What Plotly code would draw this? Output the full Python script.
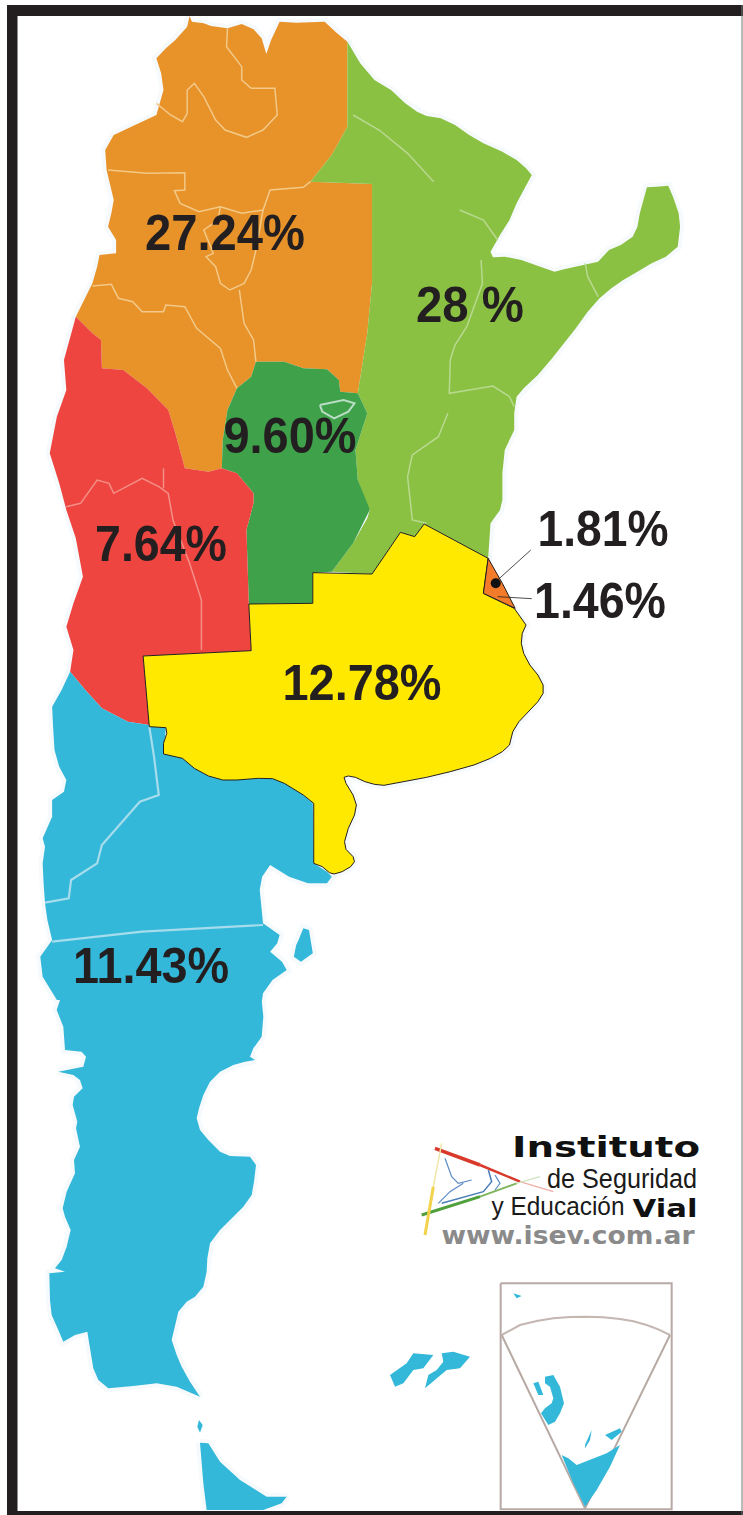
import plotly.graph_objects as go

# Outlines; each is tagged with the crop it was read in.
W, H = 743, 1515
def a(p): return [(x / 2.11, y / 3) for x, y in p]            # top crop
def b(p): return [(x / 2.11, 500 + y / 3) for x, y in p]      # middle crop
def c(p): return [(x / 3, 1000 + y / 3) for x, y in p]        # south crop
def d(p): return [(380 + x / 3, 1120 + y / 3) for x, y in p]  # logo/inset crop

orange_region = a([(400,48),(405,65),(430,70),(445,78),(480,85),(510,72),(535,88),(552,115),(562,162),(572,120),(590,65),(625,68),(685,65),(710,98),(733,125),(733,380),(700,465),(655,545),(785,552),(785,850),(775,1000),(755,1180),(718,1175),(715,1140),(690,1108),(640,1105),(600,1085),(540,1085),(530,1130),(500,1165),(480,1230),(470,1320),(468,1405),(440,1415),(390,1405),(370,1300),(355,1230),(310,1165),(260,1110),(215,1105),(213,1020),(195,1000),(160,950),(175,905),(195,850),(205,800),(210,765),(245,760),(245,720),(228,680),(235,640),(240,600),(225,510),(222,450),(240,405),(285,375),(330,345),(345,270),(340,220),(330,175),(350,145),(370,120),(395,80)])
green_region = a([(733,125),(760,190),(790,240),(825,270),(855,310),(880,335),(900,348),(930,355),(960,375),(990,405),(1020,430),(1060,455),(1090,480),(1110,505),(1122,525),(1105,570),(1090,610),(1075,660),(1055,705),(1035,755),(1040,772),(1065,770),(1100,780),(1140,800),(1170,815),(1190,808),(1215,800),(1240,792),(1262,785),(1285,750),(1310,735),(1335,710),(1345,680),(1350,640),(1360,590),(1365,562),(1385,560),(1410,557),(1420,590),(1432,640),(1435,680),(1430,740),(1405,770),(1375,790),(1345,815),(1315,840),(1290,865),(1265,895),(1240,935),(1215,985),(1190,1030),(1165,1075),(1135,1125),(1105,1165),(1090,1190),(1085,1240),(1085,1290),(1065,1350),(1060,1420),(1060,1500)]) + b([(1055,30),(1035,70),(1030,175),(895,72),(875,110),(845,97),(785,222),(700,215),(745,130),(775,55),(780,30)]) + a([(775,1520),(755,1440),(750,1350),(775,1240),(755,1180),(775,1000),(785,850),(785,552),(655,545),(700,465),(733,380)])
dark_green_region = a([(500,1165),(530,1130),(540,1085),(600,1085),(640,1105),(690,1108),(715,1140),(718,1175),(755,1180),(775,1240),(750,1350),(755,1440),(778,1520)]) + b([(780,30),(745,130),(700,215),(660,218),(660,310),(525,312),(520,90),(535,10)]) + a([(535,1480),(500,1420),(468,1405),(470,1320),(480,1230)])
red_region = a([(160,950),(195,1000),(213,1020),(215,1105),(260,1110),(310,1165),(355,1230),(370,1300),(390,1405),(440,1415),(468,1405),(500,1420),(535,1480)]) + b([(535,10),(520,90),(525,312),(530,452),(302,468),(315,675),(270,665),(215,625),(180,570),(148,515),(155,450),(140,380),(155,310),(175,230),(160,115),(140,30)]) + a([(125,1450),(105,1360),(120,1250),(140,1170),(135,1080)])
blue_region = b([(148,515),(180,570),(215,625),(270,665),(315,675),(350,680),(345,760),(385,775),(410,805),(440,828),(470,840),(545,835),(575,836),(600,850),(640,885),(660,910),(662,1090),(690,1115),(700,1130),(690,1150),(650,1150),(610,1130),(570,1095),(553,1130),(548,1170),(552,1230),(555,1270),(590,1305),(585,1330),(570,1355),(595,1385),(605,1410),(575,1440),(555,1480),(550,1530)]) + c([(785,0),(790,50),(785,110),(760,145),(750,170),(765,180),(735,185),(700,195),(660,215),(630,245),(610,285),(597,325),(590,355),(600,390),(625,420),(660,455),(690,468),(750,470),(768,495),(762,545),(755,585),(730,620),(695,655),(660,690),(630,730),(622,775),(620,815),(610,860),(585,890),(560,905),(535,935),(525,975),(515,1020),(530,1065),(545,1100),(570,1145),(600,1190),(530,1160),(470,1150),(400,1158),(325,1165),(295,1140),(280,1105),(270,1045),(262,995),(225,1005),(190,1025),(175,990),(155,945),(150,900),(148,820),(195,815),(165,805),(185,780),(200,740),(212,690),(195,650),(188,625),(200,575),(225,520),(222,480),(240,440),(228,385),(232,365),(218,315),(222,290),(248,265),(240,240),(220,225),(175,215),(210,208),(250,200),(258,170),(245,155),(195,150),(190,80),(170,30),(180,0)]) + b([(120,1500),(90,1430),(85,1370),(110,1320),(100,1260),(95,1210),(92,1150),(90,1090),(95,1040),(90,1015),(110,950),(110,900),(135,875),(140,840),(125,800),(115,750),(112,680),(110,620),(130,570)])
tierra_del_fuego = c([(600,1328),(625,1330),(660,1385),(720,1440),(800,1490),(860,1490),(845,1510),(790,1530),(620,1530),(610,1450)])
isla_small = c([(597,1260),(608,1275),(600,1298),(592,1280)])
valdes_island = b([(630,1320),(640,1285),(652,1290),(660,1360),(635,1385),(620,1370),(625,1335)])
malvinas_west = d([(30,765),(80,730),(100,700),(160,705),(130,745),(100,750),(70,790),(45,800)])
malvinas_east = d([(185,700),(220,695),(270,710),(240,745),(200,750),(170,775),(135,805),(145,765),(170,750),(190,725)])
yellow_region = b([(895,72),(1030,175),(1020,280),(1085,325),(1110,375),(1102,400),(1100,430),(1105,460),(1118,495),(1135,525),(1146,555),(1146,580),(1135,605),(1115,635),(1095,665),(1082,695),(1075,735),(1060,755),(1035,775),(1000,795),(950,815),(900,832),(850,846),(810,856),(790,853),(770,845),(750,832),(735,828),(726,832),(730,850),(745,885),(752,915),(748,945),(735,985),(727,1025),(730,1048),(745,1070),(748,1085),(740,1100),(722,1115),(705,1122),(695,1118),(680,1100),(662,1090),(662,910),(640,885),(600,850),(575,836),(545,835),(500,840),(470,840),(440,828),(410,805),(385,775),(345,762),(345,730),(352,700),(350,683),(315,680),(302,468),(530,452),(525,312),(660,310),(660,218),(785,222),(845,97),(875,110),(895,72)])
small_orange = b([(1030,175),(1060,250),(1087,325),(1020,280),(1030,175)])

orange_borders = [
    a([(480,85),(478,140),(510,200),(510,240),(530,265),(580,265),(585,345),(555,390),(520,412),(475,390),(455,360),(430,290),(410,250),(395,270),(395,340),(385,365),(360,345),(330,310)]),
    a([(228,510),(310,520),(390,518),(390,570),(368,572),(380,610),(420,635),(465,620),(510,640),(555,630),(570,570),(640,562),(655,545)]),
    a([(465,620),(460,660),(430,690),(450,760),(435,770),(455,800),(465,850),(485,870),(515,850),(530,810),(540,750),(555,630)]),
    a([(195,858),(235,853),(250,895),(280,905),(300,935),(345,935),(350,915),(390,920),(415,985),(465,1045),(480,1110),(500,1165)]),
    a([(505,870),(515,970),(535,1020),(540,1085)]),
]
green_borders = [
    a([(745,345),(800,390),(860,460),(915,545)]),
    a([(970,630),(1020,660),(1050,720)]),
    a([(1015,780),(1018,850),(985,980),(960,1035),(950,1080),(948,1180),(1040,1158),(1075,1190),(1085,1220)]),
    a([(1235,790),(1240,830),(1262,890)]),
    a([(945,1240),(925,1310),(870,1365),(860,1430),(870,1560)]) + b([(900,70)]),
]
red_borders = [
    a([(140,1520),(170,1510),(205,1440),(230,1450),(240,1480),(300,1435),(335,1460),(355,1480),(365,1560)]) + b([(400,190),(425,300),(425,450)]),
    a([(345,1405),(345,1465)]),
]
blue_borders = [
    b([(315,680),(325,770),(335,885),(295,905),(215,1035),(205,1090),(150,1140),(145,1195),(95,1208)]),
    b([(110,1325),(300,1295),(555,1275)]),
]
cordoba_lake = a([(675,1215),(725,1200),(748,1210),(735,1235),(705,1255),(680,1235),(675,1215)])

leader_lines = [b([(1050,240),(1120,150)]), b([(1050,290),(1122,296)])]
dot_point = b([(1046,250)])

region_labels = ["27.24%", "28 %", "9.60%", "7.64%", "12.78%", "1.81%", "1.46%", "11.43%"]
label_x = [225, 470, 290, 161, 362, 603, 600, 151]
label_y = [237, 309, 440, 548, 687, 533, 605, 970]
label_widths = [160, 108, 133, 132, 159, 131, 132, 156]

inset_box = d([(362,490),(875,490),(875,1168),(362,1168),(362,490)])
inset_arc = d([(365,645),(420,615),(470,603),(520,595),(570,591),(620,590),(670,592),(720,597),(760,604),(800,615),(835,628),(870,645)])
inset_wedge = d([(365,645),(615,1165),(870,645)])
inset_blue = [
    d([(545,1005),(565,1015),(590,1035),(640,1015),(680,1000),(720,975),(690,1040),(650,1110),(615,1160),(580,1090)]),
    d([(495,770),(520,765),(540,800),(552,850),(540,880),(525,905),(505,915),(483,880),(495,865),(515,850),(520,835),(510,800),(495,790)]),
    d([(460,790),(475,785),(490,825),(475,825)]),
    d([(615,975),(635,930),(630,960),(615,985)]),
    d([(675,945),(720,925),(725,935),(695,960)]),
    d([(400,520),(425,528),(410,535)]),
]
logo_lines = [
    (d([(165,85),(300,135)]), "#D8392B", 3.5),
    (d([(300,135),(420,185)]), "#D8392B", 2.5),
    (d([(420,185),(520,215)]), "#EDB0A5", 1.2),
    (d([(125,285),(300,230)]), "#4FA03B", 3),
    (d([(300,230),(410,190)]), "#7DB55C", 2),
    (d([(410,190),(480,170)]), "#CFE3C0", 1.2),
    (d([(185,70),(160,200)]), "#EFE6A8", 1.5),
    (d([(160,200),(135,345)]), "#F2D24B", 3),
    (d([(195,115),(215,170),(235,190),(275,180)]), "#5C8CC4", 1.2),
    (d([(175,250),(210,215),(250,190)]), "#5C8CC4", 1.2),
    (d([(185,250),(240,235),(310,215),(335,185),(325,150)]), "#4A7DB8", 1.5),
    (d([(345,165),(360,190),(345,210)]), "#5C8CC4", 1.2),
]
logo_texts = [
    ("Instituto", 606, 1150, "DejaVu Sans", 28, "#111111", "bold"),
    ("de Seguridad", 622, 1181, "Liberation Sans", 27, "#1a1a1a", "normal"),
    ("y Educación", 558, 1208, "Liberation Sans", 26, "#1a1a1a", "normal"),
    ("Vial", 665, 1211, "DejaVu Sans", 24, "#111111", "bold"),
    ("www.isev.com.ar", 568, 1238, "DejaVu Sans", 24, "#8a8a8a", "bold"),
]
logo_widths = {"Instituto": 188, "de Seguridad": 150, "y Educación": 133, "Vial": 65, "www.isev.com.ar": 253}

fig = go.Figure()

def poly(pts, fill, line=None, width=0):
    xs, ys = zip(*pts)
    fig.add_trace(go.Scatter(x=xs, y=ys, mode="lines", fill="toself", fillcolor=fill,
                             line=dict(color=line or fill, width=width if line else 0),
                             hoverinfo="skip", showlegend=False))

def path(pts, color, width):
    xs, ys = zip(*pts)
    fig.add_trace(go.Scatter(x=xs, y=ys, mode="lines", line=dict(color=color, width=width),
                             hoverinfo="skip", showlegend=False))

BLUE = "#33B8D9"
HALO = "rgba(205,228,238,0.18)"
for shape in (orange_region, green_region, red_region, blue_region, tierra_del_fuego, valdes_island, yellow_region):
    path(list(shape) + [shape[0]], HALO, 8)

poly(orange_region, "#E8922A")
poly(green_region, "#8AC143")
poly(dark_green_region, "#3FA14A")
poly(red_region, "#EE4540")
poly(blue_region, BLUE)
for shape in (tierra_del_fuego, isla_small, valdes_island, malvinas_west, malvinas_east):
    poly(shape, BLUE)

for border in orange_borders:
    path(border, "#F3C987", 1.5)
for border in green_borders:
    path(border, "#B9D98F", 1.5)
for border in red_borders:
    path(border, "#F58F86", 1.5)
for border in blue_borders:
    path(border, "#A6DCEC", 2.2)
path(cordoba_lake, "#B9DCC4", 2)

poly(yellow_region, "#FFE900", "#231F20", 1)
poly(small_orange, "#F47B2A", "#231F20", 1)
for line in leader_lines:
    path(line, "#231F20", 0.8)
fig.add_trace(go.Scatter(x=[dot_point[0][0]], y=[dot_point[0][1]], mode="markers",
                         marker=dict(color="#111111", size=10), hoverinfo="skip", showlegend=False))

path(inset_box, "#B7A9A4", 2)
path(inset_arc, "#C4B6B1", 2)
path(inset_wedge, "#B7A9A4", 2)
for shape in inset_blue:
    poly(shape, BLUE)
for pts, color, width in logo_lines:
    path(pts, color, width)

fig.add_trace(go.Scatter(x=label_x, y=label_y, mode="text", text=region_labels,
                         textposition="middle center",
                         textfont=dict(family="Liberation Sans", size=50, color="#231F20", weight="bold"),
                         hoverinfo="skip", showlegend=False))
for text, x, y, family, size, color, weight in logo_texts:
    fig.add_trace(go.Scatter(x=[x], y=[y], mode="text", text=[text], textposition="middle center",
                             textfont=dict(family=family, size=size, color=color, weight=weight),
                             hoverinfo="skip", showlegend=False))

# Black frame
frame_rects = [(7, 5, 17.5, 1515), (7, 5, 743, 16), (7, 1511, 743, 1515)]
for x0, y0, x1, y1 in frame_rects:
    fig.add_shape(type="rect", x0=x0, y0=y0, x1=x1, y1=y1, fillcolor="#231F20", line_width=0, layer="above")
fig.add_shape(type="line", x0=742, y0=5, x1=742, y1=1515, line=dict(color="#777777", width=1))

fig.update_layout(width=W, height=H, margin=dict(l=0, r=0, t=0, b=0), showlegend=False,
                  paper_bgcolor="white", plot_bgcolor="white",
                  xaxis=dict(range=[0, W], visible=False, fixedrange=True),
                  yaxis=dict(range=[H, 0], visible=False, fixedrange=True))

import json
all_widths = dict(logo_widths)
all_widths.update(dict(zip(region_labels, label_widths)))
post = """
document.body.style.margin='0';document.body.style.overflow='hidden';
var widths=%s;
document.querySelectorAll('.textpoint text').forEach(function(e){
  var w=widths[e.textContent];
  if(w){e.setAttribute('textLength',w);e.setAttribute('lengthAdjust','spacingAndGlyphs');}
});
""" % json.dumps(all_widths, ensure_ascii=False)
fig.write_html("out.html", config={"displayModeBar": False}, post_script=post)
